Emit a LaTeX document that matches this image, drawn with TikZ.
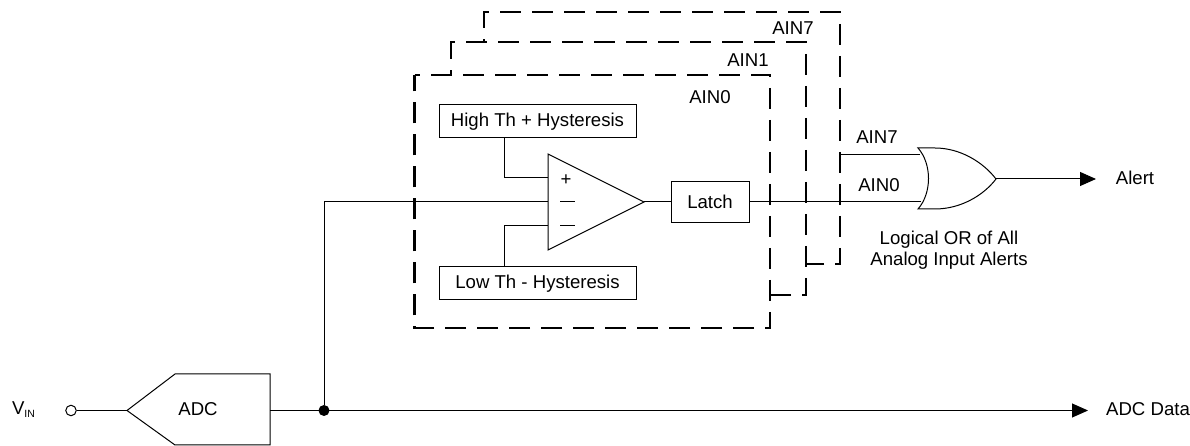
\documentclass[tikz,border=0pt]{standalone}
\usepackage{fontspec}
\setmainfont{Liberation Sans}
\usepackage{tikz}
\usetikzlibrary{arrows.meta,positioning,calc}
\tikzset{
  wire/.style={line width=1pt},
  ainbox/.style={line width=2.4pt,dash pattern=on 21pt off 11pt},
  lbl/.style={font=\fontsize{18.6}{21}\selectfont,inner sep=0pt,align=center},
  blk/.style={draw,line width=1pt,inner sep=0pt,font=\fontsize{18.6}{21}\selectfont},
  sig/.style={wire,-{Triangle[length=16pt,width=14pt]}}
}

\begin{document}
\begin{tikzpicture}[x=1pt,y=1pt]
\useasboundingbox(0,0)rectangle(1190,446);
% channel frames
\draw[ainbox,dash phase=18pt](484,404)--(484,434)--(840,434)--(840,182)--(806,182);
\draw[ainbox,dash phase=16pt](451,371)--(451,404)--(806,404)--(806,151)--(770,151);
\draw[ainbox,dash phase=15.5pt](414.5,371)--(770,371)--(770,118)--(414.5,118)--(414.5,371);
\foreach \x/\y/\l in {793/418/AIN7,748/386/AIN1,710/349/AIN0}{
  \node[lbl]at(\x,\y){\l};
}
% thresholds, comparator, latch
\node[blk,minimum width=197pt,minimum height=33pt](hiTh)at(537.5,324.5){High Th + Hysteresis};
\node[blk,minimum width=197pt,minimum height=33pt](loTh)at(537.5,162.5){Low Th - Hysteresis};
\node[blk,minimum width=78pt,minimum height=41pt](latch)at(710,244){Latch};
\coordinate(cmpP)at(548,268);
\coordinate(cmpM)at(548,244);
\coordinate(cmpL)at(548,220);
\coordinate(cmpO)at(644,244);
\draw[wire](548,292)--(cmpO)--(548,196)--cycle;
\node[lbl](plus)at(566,266){+};
\draw[wire](560,244)--(575,244);
\draw[wire](560,220)--(575,220);
\coordinate(bendH)at(504,268);
\coordinate(bendL)at(504,220);
\draw[wire](hiTh.south-|bendH)--(bendH)--(cmpP);
\draw[wire](loTh.north-|bendL)--(bendL)--(cmpL);
\draw[wire](cmpO)--(latch.west);
% OR gate
\coordinate(orA)at(921,244);
\coordinate(orB)at(920,291.5);
\coordinate(orO)at(996,267);
\draw[wire](918,298)..controls(932,282)and(932,253)..(918,237)
  --(935,237)..controls(960,237)and(983,250)..(orO)
  ..controls(983,284)and(960,298)..(935,298)--cycle;
\draw[wire](latch.east)--(orA);
\coordinate(ain7)at(840,291.5);
\draw[wire](ain7)--(orB);
\node[lbl](ainA)at(877,309){AIN7};
\node[lbl](ainB)at(879,261){AIN0};
\node[lbl](orNote)at(949,196){Logical OR of All\\Analog Input Alerts};
\coordinate(alertEnd)at(1096,267);
\draw[sig](orO)--(alertEnd);
\node[lbl](alert)at(1135,268){Alert};
% converter
\node[lbl](adc)at(198,37){ADC};
\node[lbl](vin)at(23.5,36){V\raisebox{-3pt}{\fontsize{10.5}{11}\selectfont IN}};
\node[draw,circle,wire,minimum size=10.5pt,inner sep=0pt](src)at(71,35.5){};
\coordinate(adcI)at(127,35.5);
\coordinate(adcO)at(270,35.5);
\draw[wire](adcI)--(175,72)--(270,72)--(270,1)--(175,1)--cycle;
\draw[wire](src)--(adcI);
\node[circle,fill,minimum size=11pt,inner sep=0pt](tap)at(324,35.5){};
\coordinate(dataEnd)at(1088,35.5);
\draw[sig](adcO)--(dataEnd);
\draw[wire](tap)--(tap|-cmpM)--(cmpM);
\node[lbl](data)at(1148,37){ADC Data};
\end{tikzpicture}
\end{document}
